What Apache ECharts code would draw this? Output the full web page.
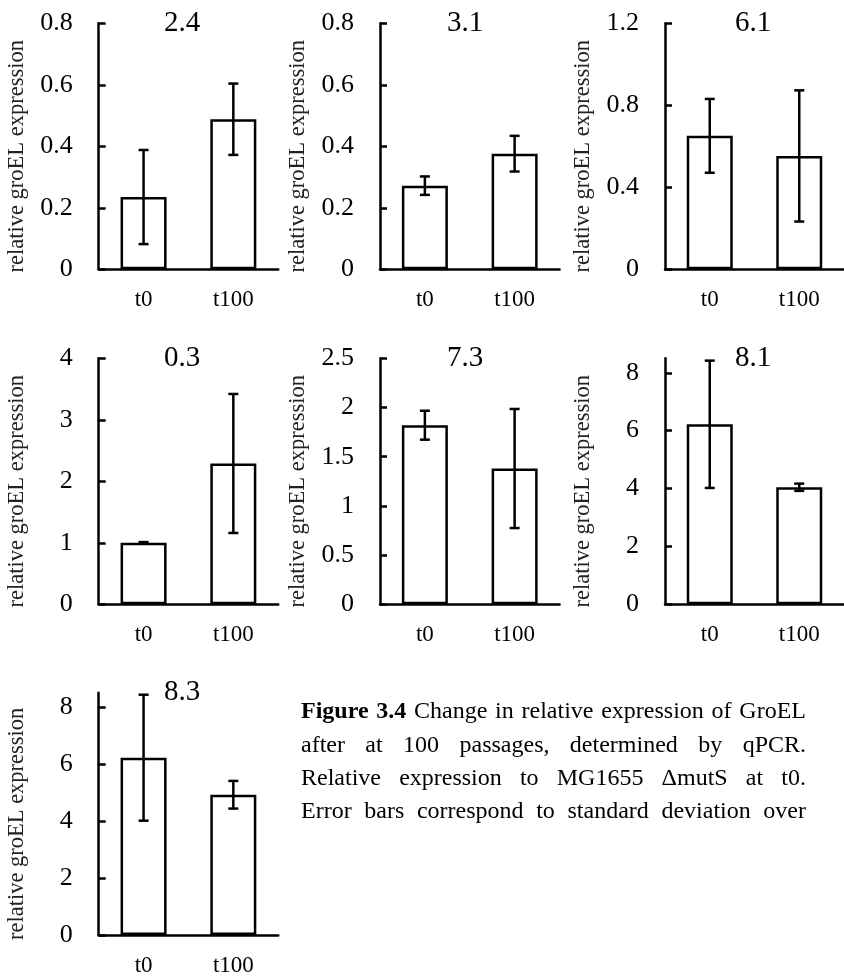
<!DOCTYPE html>
<html>
<head>
<meta charset="utf-8">
<script src="https://cdn.jsdelivr.net/npm/echarts@6/dist/echarts.min.js"></script>
<style>
  html, body { margin: 0; padding: 0; background: #fff; }
  #main { width: 844px; height: 977px; }
</style>
</head>
<body>
<div id="main"></div>
<script>
// categories and panel labels
var categories = ['t0', 't100'];
var panelNames = ['2.4', '3.1', '6.1', '0.3', '7.3', '8.1', '8.3'];

// mean relative expression, per panel
var meanT0 = [0.235, 0.272, 0.651, 1.0, 1.82, 6.22, 6.22];
var meanT100 = [0.488, 0.376, 0.553, 2.29, 1.38, 4.045, 4.92];
// standard deviation, per panel
var sdT0 = [0.153, 0.03, 0.18, 0.012, 0.147, 2.2, 2.21];
var sdT100 = [0.116, 0.058, 0.32, 1.13, 0.605, 0.125, 0.485];

// y axis ranges and tick labels
var yMax = [0.8, 0.8, 1.2, 4, 2.5, 8.5, 8.5];
var yTicks = [
    [0, 0.2, 0.4, 0.6, 0.8],
    [0, 0.2, 0.4, 0.6, 0.8],
    [0, 0.4, 0.8, 1.2],
    [0, 1, 2, 3, 4],
    [0, 0.5, 1, 1.5, 2, 2.5],
    [0, 2, 4, 6, 8],
    [0, 2, 4, 6, 8]
];

var yName = 'relative groEL expression';
var captionBold = 'Figure 3.4';
var captionLines = [
    'Change in relative expression of GroEL',
    'after at 100 passages, determined by qPCR.',
    'Relative expression to MG1655 \u0394mutS at t0.',
    'Error bars correspond to standard deviation over'
];

var FONT = '"Liberation Serif", "Times New Roman", serif';
var colLeft = [98.7, 380, 665];
var rowTop = [23.3, 358.3, 692.7];
var gridW = 179.5, gridH = 246;
var LW = 2.5;

var chart = echarts.init(document.getElementById('main'));

var grids = [], xAxes = [], yAxes = [], series = [], graphics = [];

panelNames.forEach(function (name, i) {
    var col = i % 3, row = Math.floor(i / 3);
    grids.push({left: colLeft[col], top: rowTop[row], width: gridW, height: gridH});
    xAxes.push({
        type: 'category',
        gridIndex: i,
        data: categories,
        axisLine: {lineStyle: {color: '#000', width: LW}},
        axisTick: {show: false},
        axisLabel: {color: '#000', fontFamily: FONT, fontSize: 23, margin: 19}
    });
    yAxes.push({
        type: 'value',
        gridIndex: i,
        min: 0,
        max: yMax[i],
        name: yName,
        nameLocation: 'middle',
        nameRotate: 90,
        nameGap: 70,
        nameTextStyle: {color: '#222', fontFamily: FONT, fontSize: 22.5, padding: [0, 20, 0, 0]},
        axisLine: {show: true, lineStyle: {color: '#000', width: LW}},
        axisTick: {show: true, inside: true, length: 7, lineStyle: {color: '#000', width: LW}, customValues: yTicks[i]},
        axisLabel: {color: '#000', fontFamily: FONT, fontSize: 26, margin: 26, customValues: yTicks[i]},
        splitLine: {show: false}
    });
    series.push({
        type: 'bar',
        xAxisIndex: i,
        yAxisIndex: i,
        barWidth: 46,
        data: [meanT0[i], meanT100[i]],
        itemStyle: {color: '#fff', borderColor: '#000', borderWidth: LW},
        silent: true
    });
    series.push({
        type: 'custom',
        xAxisIndex: i,
        yAxisIndex: i,
        data: [
            [0, meanT0[i] - sdT0[i], meanT0[i] + sdT0[i]],
            [1, meanT100[i] - sdT100[i], meanT100[i] + sdT100[i]]
        ],
        renderItem: function (params, api) {
            var lo = api.coord([api.value(0), api.value(1)]);
            var hi = api.coord([api.value(0), api.value(2)]);
            var st = {stroke: '#000', lineWidth: LW};
            var cap = 5;
            return {
                type: 'group',
                children: [
                    {type: 'line', shape: {x1: hi[0], y1: hi[1], x2: lo[0], y2: lo[1]}, style: st},
                    {type: 'line', shape: {x1: hi[0] - cap, y1: hi[1], x2: hi[0] + cap, y2: hi[1]}, style: st},
                    {type: 'line', shape: {x1: lo[0] - cap, y1: lo[1], x2: lo[0] + cap, y2: lo[1]}, style: st}
                ]
            };
        },
        z: 5,
        silent: true
    });
});

// panel titles
var titleX = [182, 465, 753];
panelNames.forEach(function (name, i) {
    graphics.push({
        type: 'text',
        x: titleX[i % 3],
        y: rowTop[Math.floor(i / 3)],
        style: {text: name, fill: '#000', font: '29px ' + FONT, align: 'center', verticalAlign: 'middle'}
    });
});

// justified caption
var ctx = document.createElement('canvas').getContext('2d');
var capFont = '24px ' + FONT, capBoldFont = 'bold 24px ' + FONT;
var capLeft = 301, capRight = 806, capTop = 712, capStep = 33.3;
captionLines.forEach(function (line, li) {
    var words = line.split(' ').map(function (w) { return {text: w, font: capFont}; });
    if (li === 0) {
        words = captionBold.split(' ').map(function (w) { return {text: w, font: capBoldFont}; }).concat(words);
    }
    var total = 0;
    words.forEach(function (w) { ctx.font = w.font; w.width = ctx.measureText(w.text).width; total += w.width; });
    var gap = (capRight - capLeft - total) / (words.length - 1);
    var x = capLeft;
    words.forEach(function (w) {
        graphics.push({
            type: 'text',
            x: x,
            y: capTop + li * capStep,
            style: {text: w.text, fill: '#000', font: w.font, align: 'left', verticalAlign: 'middle'}
        });
        x += w.width + gap;
    });
});

chart.setOption({
    animation: false,
    grid: grids,
    xAxis: xAxes,
    yAxis: yAxes,
    series: series,
    graphic: graphics
});
</script>
</body>
</html>
